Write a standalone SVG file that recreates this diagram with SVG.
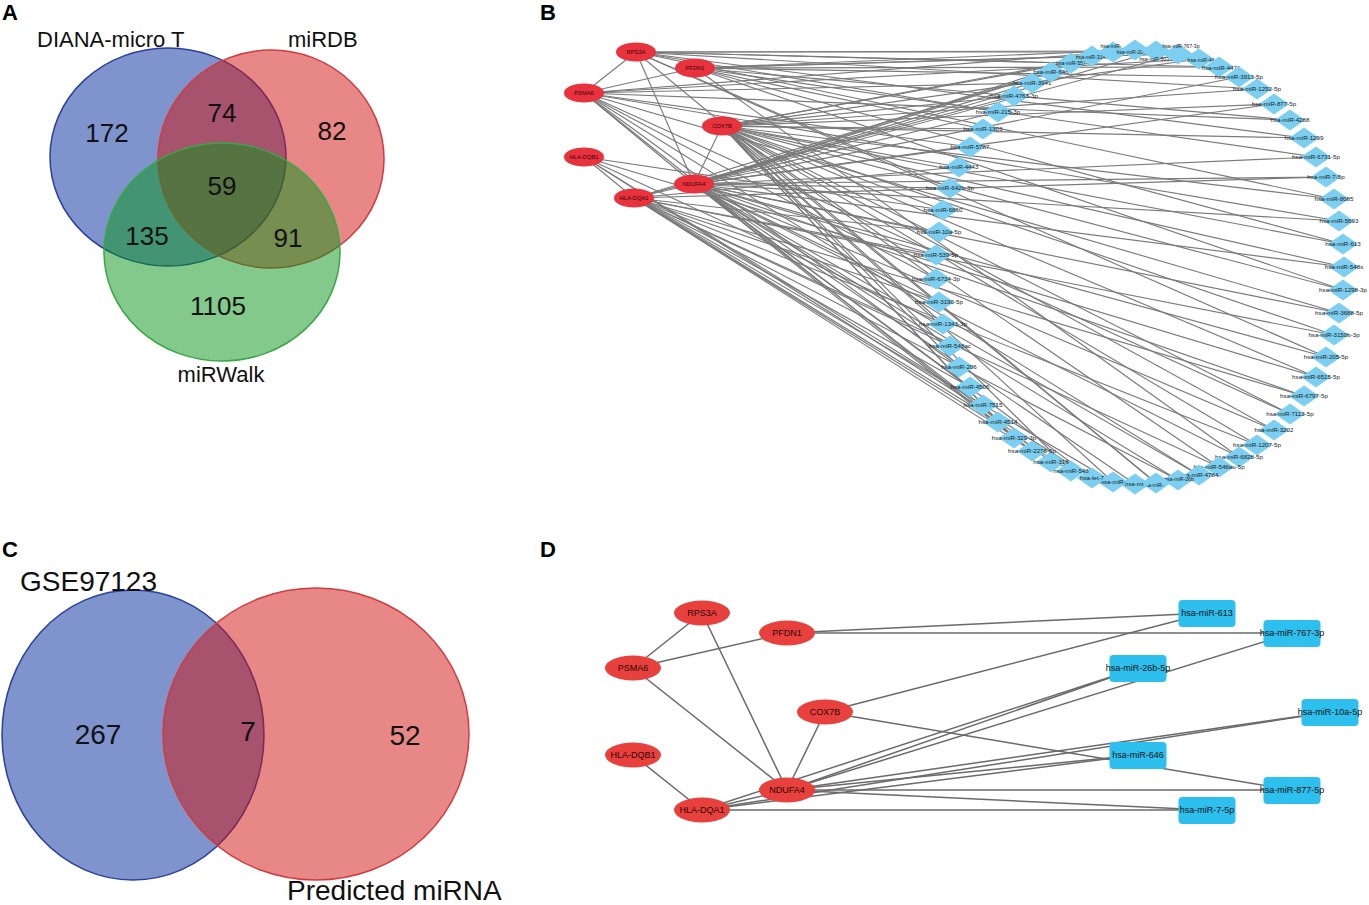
<svg xmlns="http://www.w3.org/2000/svg" xmlns:xlink="http://www.w3.org/1999/xlink" width="1369" height="905" viewBox="0 0 1369 905">
<style>
.pl{font:bold 22px "Liberation Sans",Arial,sans-serif;fill:#000}
.vl{font:22px "Liberation Sans",Arial,sans-serif;fill:#111}
.vn{font:26px "Liberation Sans",Arial,sans-serif;fill:#111;text-anchor:middle}
.vc{font:28px "Liberation Sans",Arial,sans-serif;fill:#111}
.gb{fill:#e8323d}
.gbt{font:5.8px "Liberation Sans",Arial,sans-serif;fill:#3a0505;text-anchor:middle}
.mt{font:6.2px "Liberation Sans",Arial,sans-serif;fill:#1a1a1a;text-anchor:middle}
.mt.s{font-size:5.2px}
.gd{fill:#e8403d}
.gdt{font:9px "Liberation Sans",Arial,sans-serif;fill:#2a0505;text-anchor:middle}
.rd{fill:#2dbfee}
.rdt{font:9px "Liberation Sans",Arial,sans-serif;fill:#111;text-anchor:middle}
</style>
<defs>
<path id="dm" d="M0,-10.5L15,0L0,10.5L-15,0Z" fill="#7ccff1"/>
</defs>
<rect width="1369" height="905" fill="#fff"/>

<!-- Panel A -->
<g id="panelA">
<text class="pl" x="2" y="20">A</text>
<g id="venn-diana"><ellipse cx="168" cy="157" rx="118" ry="109" fill="#00299b" fill-opacity="0.5" stroke="#2b3f9e" stroke-width="1.5"/></g>
<g id="venn-mirdb"><ellipse cx="271" cy="159" rx="113" ry="109" fill="#cf110d" fill-opacity="0.5" stroke="#d33a3f" stroke-width="1.5"/></g>
<g id="venn-mirwalk"><ellipse cx="222" cy="252" rx="118" ry="109" fill="#059317" fill-opacity="0.5" stroke="#38a845" stroke-width="1.5"/></g>
<text class="vl" x="37" y="47">DIANA-micro T</text>
<text class="vl" x="288" y="47">miRDB</text>
<text class="vl" x="221" y="382" text-anchor="middle">miRWalk</text>
<text class="vn" x="107" y="142">172</text>
<text class="vn" x="222" y="122">74</text>
<text class="vn" x="332" y="140">82</text>
<text class="vn" x="222" y="195">59</text>
<text class="vn" x="147" y="245">135</text>
<text class="vn" x="288" y="247">91</text>
<text class="vn" x="218" y="315">1105</text>
</g>

<!-- Panel C -->
<g id="panelC">
<text class="pl" x="2" y="557">C</text>
<g id="venn-gse"><ellipse cx="133" cy="735" rx="131" ry="145" fill="#00299b" fill-opacity="0.5" stroke="#2b3f9e" stroke-width="1.5"/></g>
<g id="venn-pred"><ellipse cx="316" cy="734" rx="153" ry="146" fill="#cf110d" fill-opacity="0.5" stroke="#d33a3f" stroke-width="1.5"/></g>
<text class="vc" x="20" y="591">GSE97123</text>
<text class="vc" x="287" y="900">Predicted miRNA</text>
<text class="vc" x="98" y="744" text-anchor="middle">267</text>
<text class="vc" x="248" y="741" text-anchor="middle">7</text>
<text class="vc" x="405" y="745" text-anchor="middle">52</text>
</g>

<!-- Panel B -->
<text class="pl" x="540" y="20">B</text>
<g id="edgesB" stroke="#7a7a7a" stroke-width="1.15" fill="none">
<line x1="722" y1="126" x2="1344" y2="267"/><line x1="722" y1="126" x2="1343" y2="290"/><line x1="722" y1="126" x2="1334" y2="335"/><line x1="722" y1="126" x2="1316" y2="377"/><line x1="722" y1="126" x2="1290" y2="414"/><line x1="722" y1="126" x2="1274" y2="430"/><line x1="722" y1="126" x2="1257" y2="445"/><line x1="722" y1="126" x2="1219" y2="467"/><line x1="722" y1="126" x2="1156" y2="483"/><line x1="722" y1="126" x2="1113" y2="482"/><line x1="722" y1="126" x2="1071" y2="471"/><line x1="722" y1="126" x2="1014" y2="438"/><line x1="722" y1="126" x2="983" y2="405"/><line x1="722" y1="126" x2="959" y2="367"/><line x1="722" y1="126" x2="943" y2="324"/><line x1="722" y1="126" x2="936" y2="279"/><line x1="722" y1="126" x2="943" y2="210"/><line x1="722" y1="126" x2="959" y2="167"/><line x1="722" y1="126" x2="983" y2="129"/><line x1="722" y1="126" x2="1014" y2="96"/><line x1="722" y1="126" x2="1071" y2="63"/><line x1="722" y1="126" x2="1135" y2="50"/><line x1="722" y1="126" x2="1199" y2="59"/><line x1="722" y1="126" x2="1257" y2="89"/><line x1="722" y1="126" x2="1274" y2="104"/><line x1="722" y1="126" x2="1304" y2="138"/><line x1="722" y1="126" x2="1334" y2="199"/><line x1="722" y1="126" x2="1343" y2="244"/>
<line x1="694" y1="184" x2="1344" y2="267"/><line x1="694" y1="184" x2="1339" y2="313"/><line x1="694" y1="184" x2="1326" y2="357"/><line x1="694" y1="184" x2="1304" y2="396"/><line x1="694" y1="184" x2="1274" y2="430"/><line x1="694" y1="184" x2="1239" y2="457"/><line x1="694" y1="184" x2="1199" y2="475"/><line x1="694" y1="184" x2="1178" y2="480"/><line x1="694" y1="184" x2="1135" y2="484"/><line x1="694" y1="184" x2="1092" y2="478"/><line x1="694" y1="184" x2="1051" y2="462"/><line x1="694" y1="184" x2="1014" y2="438"/><line x1="694" y1="184" x2="970" y2="387"/><line x1="694" y1="184" x2="950" y2="346"/><line x1="694" y1="184" x2="939" y2="302"/><line x1="694" y1="184" x2="936" y2="255"/><line x1="694" y1="184" x2="939" y2="232"/><line x1="694" y1="184" x2="950" y2="188"/><line x1="694" y1="184" x2="970" y2="147"/><line x1="694" y1="184" x2="998" y2="112"/><line x1="694" y1="184" x2="1032" y2="83"/><line x1="694" y1="184" x2="1051" y2="72"/><line x1="694" y1="184" x2="1092" y2="56"/><line x1="694" y1="184" x2="1156" y2="51"/><line x1="694" y1="184" x2="1178" y2="54"/><line x1="694" y1="184" x2="1239" y2="77"/><line x1="694" y1="184" x2="1274" y2="104"/><line x1="694" y1="184" x2="1316" y2="157"/><line x1="694" y1="184" x2="1326" y2="177"/><line x1="694" y1="184" x2="1339" y2="221"/>
<line x1="634" y1="198" x2="1334" y2="335"/><line x1="634" y1="198" x2="1304" y2="396"/><line x1="634" y1="198" x2="1257" y2="445"/><line x1="634" y1="198" x2="1219" y2="467"/><line x1="634" y1="198" x2="1178" y2="480"/><line x1="634" y1="198" x2="1113" y2="482"/><line x1="634" y1="198" x2="1071" y2="471"/><line x1="634" y1="198" x2="1032" y2="451"/><line x1="634" y1="198" x2="998" y2="422"/><line x1="634" y1="198" x2="970" y2="387"/><line x1="634" y1="198" x2="950" y2="346"/><line x1="634" y1="198" x2="939" y2="302"/><line x1="634" y1="198" x2="936" y2="255"/><line x1="634" y1="198" x2="939" y2="232"/><line x1="634" y1="198" x2="959" y2="167"/><line x1="634" y1="198" x2="1014" y2="96"/><line x1="634" y1="198" x2="1051" y2="72"/><line x1="634" y1="198" x2="1326" y2="177"/>
<line x1="584" y1="157" x2="1316" y2="377"/><line x1="584" y1="157" x2="1092" y2="478"/><line x1="584" y1="157" x2="983" y2="405"/><line x1="584" y1="157" x2="943" y2="324"/><line x1="584" y1="157" x2="943" y2="210"/>
<line x1="584" y1="93" x2="1339" y2="313"/><line x1="584" y1="93" x2="1290" y2="414"/><line x1="584" y1="93" x2="1199" y2="475"/><line x1="584" y1="93" x2="1032" y2="451"/><line x1="584" y1="93" x2="959" y2="367"/><line x1="584" y1="93" x2="936" y2="279"/><line x1="584" y1="93" x2="970" y2="147"/><line x1="584" y1="93" x2="1032" y2="83"/><line x1="584" y1="93" x2="1113" y2="52"/><line x1="584" y1="93" x2="1199" y2="59"/><line x1="584" y1="93" x2="1290" y2="120"/><line x1="584" y1="93" x2="1339" y2="221"/>
<line x1="636" y1="52" x2="1326" y2="357"/><line x1="636" y1="52" x2="1156" y2="483"/><line x1="636" y1="52" x2="950" y2="188"/><line x1="636" y1="52" x2="998" y2="112"/><line x1="636" y1="52" x2="1071" y2="63"/><line x1="636" y1="52" x2="1113" y2="52"/><line x1="636" y1="52" x2="1156" y2="51"/><line x1="636" y1="52" x2="1219" y2="67"/><line x1="636" y1="52" x2="1257" y2="89"/><line x1="636" y1="52" x2="1304" y2="138"/><line x1="636" y1="52" x2="1334" y2="199"/>
<line x1="695" y1="68" x2="1343" y2="290"/><line x1="695" y1="68" x2="1239" y2="457"/><line x1="695" y1="68" x2="983" y2="129"/><line x1="695" y1="68" x2="1092" y2="56"/><line x1="695" y1="68" x2="1135" y2="50"/><line x1="695" y1="68" x2="1178" y2="54"/><line x1="695" y1="68" x2="1219" y2="67"/><line x1="695" y1="68" x2="1239" y2="77"/><line x1="695" y1="68" x2="1290" y2="120"/><line x1="695" y1="68" x2="1316" y2="157"/><line x1="695" y1="68" x2="1343" y2="244"/>
<line x1="636" y1="52" x2="584" y2="93"/><line x1="584" y1="93" x2="695" y2="68"/><line x1="584" y1="93" x2="694" y2="184"/><line x1="636" y1="52" x2="694" y2="184"/><line x1="722" y1="126" x2="694" y2="184"/><line x1="584" y1="157" x2="634" y2="198"/><line x1="634" y1="198" x2="694" y2="184"/>
</g>
<g id="nodesB">
<g id="b-RPS3A"><ellipse class="gb" cx="636" cy="52" rx="20" ry="9.5"/><text class="gbt" x="636" y="54">RPS3A</text></g>
<g id="b-PFDN1"><ellipse class="gb" cx="695" cy="68" rx="20" ry="9.5"/><text class="gbt" x="695" y="70">PFDN1</text></g>
<g id="b-PSMA6"><ellipse class="gb" cx="584" cy="93" rx="20" ry="9.5"/><text class="gbt" x="584" y="95">PSMA6</text></g>
<g id="b-COX7B"><ellipse class="gb" cx="722" cy="126" rx="20" ry="9.5"/><text class="gbt" x="722" y="128">COX7B</text></g>
<g id="b-HLA-DQB1"><ellipse class="gb" cx="584" cy="157" rx="20" ry="9.5"/><text class="gbt" x="584" y="159">HLA-DQB1</text></g>
<g id="b-NDUFA4"><ellipse class="gb" cx="694" cy="184" rx="20" ry="9.5"/><text class="gbt" x="694" y="186">NDUFA4</text></g>
<g id="b-HLA-DQA1"><ellipse class="gb" cx="634" cy="198" rx="20" ry="9.5"/><text class="gbt" x="634" y="200">HLA-DQA1</text></g>

<g id="b-m0"><use href="#dm" x="1344" y="267"/><text class="mt" x="1344" y="269">hsa-miR-548s</text></g>
<g id="b-m1"><use href="#dm" x="1343" y="290"/><text class="mt" x="1343" y="292">hsa-miR-1298-3p</text></g>
<g id="b-m2"><use href="#dm" x="1339" y="313"/><text class="mt" x="1339" y="315">hsa-miR-3688-5p</text></g>
<g id="b-m3"><use href="#dm" x="1334" y="335"/><text class="mt" x="1334" y="337">hsa-miR-3150b-3p</text></g>
<g id="b-m4"><use href="#dm" x="1326" y="357"/><text class="mt" x="1326" y="359">hsa-miR-205-5p</text></g>
<g id="b-m5"><use href="#dm" x="1316" y="377"/><text class="mt" x="1316" y="379">hsa-miR-6515-5p</text></g>
<g id="b-m6"><use href="#dm" x="1304" y="396"/><text class="mt" x="1304" y="398">hsa-miR-6797-5p</text></g>
<g id="b-m7"><use href="#dm" x="1290" y="414"/><text class="mt" x="1290" y="416">hsa-miR-7113-5p</text></g>
<g id="b-m8"><use href="#dm" x="1274" y="430"/><text class="mt" x="1274" y="432">hsa-miR-3202</text></g>
<g id="b-m9"><use href="#dm" x="1257" y="445"/><text class="mt" x="1257" y="447">hsa-miR-1207-5p</text></g>
<g id="b-m10"><use href="#dm" x="1239" y="457"/><text class="mt" x="1239" y="459">hsa-miR-6828-5p</text></g>
<g id="b-m11"><use href="#dm" x="1219" y="467"/><text class="mt" x="1219" y="469">hsa-miR-548au-5p</text></g>
<g id="b-m12"><use href="#dm" x="1199" y="475"/><text class="mt" x="1199" y="477">hsa-miR-4784</text></g>
<g id="b-m13"><use href="#dm" x="1178" y="480"/><text class="mt s" x="1179" y="481">hsa-miR-26b</text></g>
<g id="b-m14"><use href="#dm" x="1156" y="483"/><text class="mt s" x="1153" y="487">hsa-miR-</text></g>
<g id="b-m15"><use href="#dm" x="1135" y="484"/><text class="mt" x="1134" y="486">hsa-mi</text></g>
<g id="b-m16"><use href="#dm" x="1113" y="482"/><text class="mt" x="1113" y="484">hsa-miR-</text></g>
<g id="b-m17"><use href="#dm" x="1092" y="478"/><text class="mt" x="1092" y="480">hsa-let-7</text></g>
<g id="b-m18"><use href="#dm" x="1071" y="471"/><text class="mt" x="1071" y="473">hsa-miR-548</text></g>
<g id="b-m19"><use href="#dm" x="1051" y="462"/><text class="mt" x="1051" y="464">hsa-miR-318</text></g>
<g id="b-m20"><use href="#dm" x="1032" y="451"/><text class="mt" x="1032" y="453">hsa-miR-2276-5p</text></g>
<g id="b-m21"><use href="#dm" x="1014" y="438"/><text class="mt" x="1014" y="440">hsa-miR-329-3p</text></g>
<g id="b-m22"><use href="#dm" x="998" y="422"/><text class="mt" x="998" y="424">hsa-miR-4514</text></g>
<g id="b-m23"><use href="#dm" x="983" y="405"/><text class="mt" x="983" y="407">hsa-miR-7515</text></g>
<g id="b-m24"><use href="#dm" x="970" y="387"/><text class="mt" x="970" y="389">hsa-miR-4506</text></g>
<g id="b-m25"><use href="#dm" x="959" y="367"/><text class="mt" x="959" y="369">hsa-miR-206</text></g>
<g id="b-m26"><use href="#dm" x="950" y="346"/><text class="mt" x="950" y="348">hsa-miR-548ac</text></g>
<g id="b-m27"><use href="#dm" x="943" y="324"/><text class="mt" x="943" y="326">hsa-miR-1343-3p</text></g>
<g id="b-m28"><use href="#dm" x="939" y="302"/><text class="mt" x="939" y="304">hsa-miR-3190-5p</text></g>
<g id="b-m29"><use href="#dm" x="936" y="279"/><text class="mt" x="936" y="281">hsa-miR-6734-3p</text></g>
<g id="b-m30"><use href="#dm" x="936" y="255"/><text class="mt" x="936" y="257">hsa-miR-539-5p</text></g>
<g id="b-m31"><use href="#dm" x="939" y="232"/><text class="mt" x="939" y="234">hsa-miR-10a-5p</text></g>
<g id="b-m32"><use href="#dm" x="943" y="210"/><text class="mt" x="943" y="212">hsa-miR-6860</text></g>
<g id="b-m33"><use href="#dm" x="950" y="188"/><text class="mt" x="950" y="190">hsa-miR-642b-3p</text></g>
<g id="b-m34"><use href="#dm" x="959" y="167"/><text class="mt" x="959" y="169">hsa-miR-4443</text></g>
<g id="b-m35"><use href="#dm" x="970" y="147"/><text class="mt" x="970" y="149">hsa-miR-5787</text></g>
<g id="b-m36"><use href="#dm" x="983" y="129"/><text class="mt" x="983" y="131">hsa-miR-1303</text></g>
<g id="b-m37"><use href="#dm" x="998" y="112"/><text class="mt" x="998" y="114">hsa-miR-215-3p</text></g>
<g id="b-m38"><use href="#dm" x="1014" y="96"/><text class="mt" x="1014" y="98">hsa-miR-4763-3p</text></g>
<g id="b-m39"><use href="#dm" x="1032" y="83"/><text class="mt" x="1032" y="85">hsa-miR-3941</text></g>
<g id="b-m40"><use href="#dm" x="1051" y="72"/><text class="mt" x="1051" y="74">hsa-miR-646</text></g>
<g id="b-m41"><use href="#dm" x="1071" y="63"/><text class="mt s" x="1071" y="65">hsa-miR-557</text></g>
<g id="b-m42"><use href="#dm" x="1092" y="56"/><text class="mt s" x="1092" y="58.5">hsa-miR-3148</text></g>
<g id="b-m43"><use href="#dm" x="1113" y="52"/><text class="mt s" x="1111" y="47.5">hsa-miR-</text></g>
<g id="b-m44"><use href="#dm" x="1135" y="50"/><text class="mt s" x="1135" y="54">hsa-miR-204-3p</text></g>
<g id="b-m45"><use href="#dm" x="1156" y="51"/><text class="mt s" x="1158" y="60.5">hsa-miR-503-5p</text></g>
<g id="b-m46"><use href="#dm" x="1178" y="54"/><text class="mt s" x="1181" y="47.5">hsa-miR-767-3p</text></g>
<g id="b-m47"><use href="#dm" x="1199" y="59"/><text class="mt s" x="1201" y="61.5">hsa-miR-44</text></g>
<g id="b-m48"><use href="#dm" x="1219" y="67"/><text class="mt" x="1221" y="69.5">hsa-miR-4471</text></g>
<g id="b-m49"><use href="#dm" x="1239" y="77"/><text class="mt" x="1239" y="79">hsa-miR-3913-5p</text></g>
<g id="b-m50"><use href="#dm" x="1257" y="89"/><text class="mt" x="1257" y="91">hsa-miR-1292-5p</text></g>
<g id="b-m51"><use href="#dm" x="1274" y="104"/><text class="mt" x="1274" y="106">hsa-miR-877-5p</text></g>
<g id="b-m52"><use href="#dm" x="1290" y="120"/><text class="mt" x="1290" y="122">hsa-miR-4288</text></g>
<g id="b-m53"><use href="#dm" x="1304" y="138"/><text class="mt" x="1304" y="140">hsa-miR-1299</text></g>
<g id="b-m54"><use href="#dm" x="1316" y="157"/><text class="mt" x="1316" y="159">hsa-miR-6731-5p</text></g>
<g id="b-m55"><use href="#dm" x="1326" y="177"/><text class="mt" x="1326" y="179">hsa-miR-7-5p</text></g>
<g id="b-m56"><use href="#dm" x="1334" y="199"/><text class="mt" x="1334" y="201">hsa-miR-8085</text></g>
<g id="b-m57"><use href="#dm" x="1339" y="221"/><text class="mt" x="1339" y="223">hsa-miR-5693</text></g>
<g id="b-m58"><use href="#dm" x="1343" y="244"/><text class="mt" x="1343" y="246">hsa-miR-613</text></g>
</g>

<!-- Panel D -->
<text class="pl" x="540" y="557">D</text>
<g id="edgesD" stroke="#6a6a6a" stroke-width="1.5" fill="none">
<line x1="702" y1="613" x2="633" y2="668"/>
<line x1="633" y1="668" x2="787" y2="633"/>
<line x1="633" y1="668" x2="787" y2="790"/>
<line x1="702" y1="613" x2="787" y2="790"/>
<line x1="825" y1="712" x2="787" y2="790"/>
<line x1="633" y1="755" x2="702" y2="810"/>
<line x1="702" y1="810" x2="787" y2="790"/>
<line x1="787" y1="633" x2="1207" y2="613"/>
<line x1="787" y1="633" x2="1292" y2="633"/>
<line x1="825" y1="712" x2="1207" y2="613"/>
<line x1="825" y1="712" x2="1292" y2="790"/>
<line x1="787" y1="790" x2="1292" y2="633"/>
<line x1="787" y1="790" x2="1138" y2="668"/>
<line x1="787" y1="790" x2="1330" y2="712"/>
<line x1="787" y1="790" x2="1138" y2="755"/>
<line x1="787" y1="790" x2="1292" y2="790"/>
<line x1="787" y1="790" x2="1207" y2="810"/>
<line x1="702" y1="810" x2="1138" y2="668"/>
<line x1="702" y1="810" x2="1330" y2="712"/>
<line x1="702" y1="810" x2="1138" y2="755"/>
<line x1="702" y1="810" x2="1207" y2="810"/>
</g>
<g id="nodesD">
<g id="d-RPS3A"><ellipse class="gd" cx="702" cy="613" rx="28" ry="12.5"/><text class="gdt" x="702" y="616">RPS3A</text></g>
<g id="d-PFDN1"><ellipse class="gd" cx="787" cy="633" rx="28" ry="12.5"/><text class="gdt" x="787" y="636">PFDN1</text></g>
<g id="d-PSMA6"><ellipse class="gd" cx="633" cy="668" rx="28" ry="12.5"/><text class="gdt" x="633" y="671">PSMA6</text></g>
<g id="d-COX7B"><ellipse class="gd" cx="825" cy="712" rx="28" ry="12.5"/><text class="gdt" x="825" y="715">COX7B</text></g>
<g id="d-HLA-DQB1"><ellipse class="gd" cx="633" cy="755" rx="28" ry="12.5"/><text class="gdt" x="633" y="758">HLA-DQB1</text></g>
<g id="d-NDUFA4"><ellipse class="gd" cx="787" cy="790" rx="28" ry="12.5"/><text class="gdt" x="787" y="793">NDUFA4</text></g>
<g id="d-HLA-DQA1"><ellipse class="gd" cx="702" cy="810" rx="28" ry="12.5"/><text class="gdt" x="702" y="813">HLA-DQA1</text></g>
<g id="d-613"><rect class="rd" x="1178.5" y="600" width="57" height="27" rx="4"/><text class="rdt" x="1207" y="616">hsa-miR-613</text></g>
<g id="d-767-3p"><rect class="rd" x="1263.5" y="620" width="57" height="27" rx="4"/><text class="rdt" x="1292" y="636">hsa-miR-767-3p</text></g>
<g id="d-26b-5p"><rect class="rd" x="1109.5" y="655" width="57" height="27" rx="4"/><text class="rdt" x="1138" y="671">hsa-miR-26b-5p</text></g>
<g id="d-10a-5p"><rect class="rd" x="1301.5" y="699" width="57" height="27" rx="4"/><text class="rdt" x="1330" y="715">hsa-miR-10a-5p</text></g>
<g id="d-646"><rect class="rd" x="1109.5" y="742" width="57" height="27" rx="4"/><text class="rdt" x="1138" y="758">hsa-miR-646</text></g>
<g id="d-877-5p"><rect class="rd" x="1263.5" y="777" width="57" height="27" rx="4"/><text class="rdt" x="1292" y="793">hsa-miR-877-5p</text></g>
<g id="d-7-5p"><rect class="rd" x="1178.5" y="797" width="57" height="27" rx="4"/><text class="rdt" x="1207" y="813">hsa-miR-7-5p</text></g>
</g>
</svg>
